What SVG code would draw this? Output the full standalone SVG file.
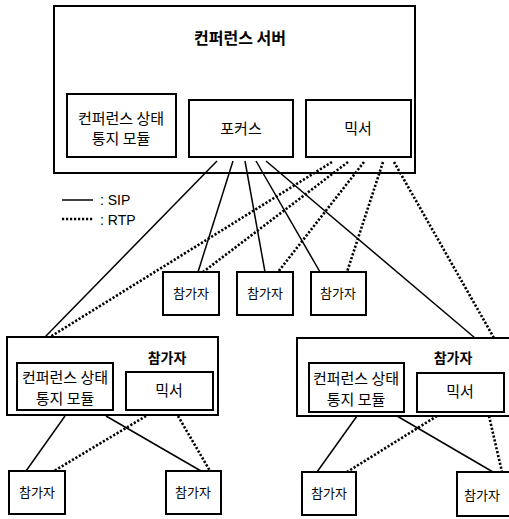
<svg xmlns="http://www.w3.org/2000/svg" width="509" height="519" viewBox="0 0 509 519">
<style>
.box{fill:#fff;stroke:#000;stroke-width:2}
.inner{fill:none;stroke:#000;stroke-width:2}
.sip{stroke:#000;stroke-width:1.5;fill:none}
.rtp{stroke:#000;stroke-width:2.6;stroke-dasharray:2.2 1.8;fill:none}
text{font-family:"Noto Sans CJK KR","Liberation Sans",sans-serif;fill:#000;text-anchor:middle}
.t{font-size:15px}
.s{font-size:13px}
.b{font-size:14px;font-weight:bold}
.title{font-size:16px;font-weight:bold}
.leg{font-size:14px;text-anchor:start;font-family:"Liberation Sans",sans-serif}
</style>
<rect width="509" height="519" fill="#fff"/>
<g id="conference-server">
<rect class="box" x="54" y="6" width="361" height="167"/>
<text class="title" x="240" y="44">컨퍼런스 서버</text>
</g>
<g id="server-notify">
<rect class="inner" x="67" y="94" width="109" height="63"/>
<text class="t" x="121" y="124">컨퍼런스 상태</text>
<text class="t" x="121" y="144">통지 모듈</text>
</g>
<g id="focus">
<rect class="inner" x="189" y="100" width="104" height="57"/>
<text class="t" x="241" y="134">포커스</text>
</g>
<g id="server-mixer">
<rect class="inner" x="306" y="100" width="105" height="57"/>
<text class="t" x="358" y="134">믹서</text>
</g>
<g id="legend">
<line class="sip" x1="62" y1="200" x2="93" y2="200"/>
<text class="leg" x="100" y="205">: SIP</text>
<line class="rtp" x1="62" y1="219" x2="93" y2="219"/>
<text class="leg" x="100" y="225">: RTP</text>
</g>
<g id="connectors">
<line class="sip" x1="217" y1="161" x2="45" y2="337"/>
<line class="sip" x1="233" y1="161" x2="198" y2="272"/>
<line class="sip" x1="245" y1="161" x2="265" y2="272"/>
<line class="sip" x1="256" y1="161" x2="320" y2="272"/>
<line class="sip" x1="266" y1="161" x2="475" y2="338"/>
<line class="rtp" x1="332" y1="162" x2="50" y2="337"/>
<line class="rtp" x1="348" y1="162" x2="203" y2="272"/>
<line class="rtp" x1="364" y1="162" x2="278" y2="272"/>
<line class="rtp" x1="383" y1="162" x2="347" y2="272"/>
<line class="rtp" x1="394" y1="162" x2="494" y2="338"/>
<line class="sip" x1="65" y1="416" x2="26" y2="471"/>
<line class="sip" x1="106" y1="416" x2="201" y2="471"/>
<line class="rtp" x1="146" y1="416" x2="54" y2="471"/>
<line class="rtp" x1="178" y1="416" x2="210" y2="471"/>
<line class="sip" x1="357" y1="416" x2="317" y2="472"/>
<line class="sip" x1="397" y1="416" x2="493" y2="472"/>
<line class="rtp" x1="437" y1="416" x2="347" y2="472"/>
<line class="rtp" x1="489" y1="416" x2="502" y2="472"/>
</g>
<g id="p1">
<rect class="box" x="163" y="272" width="56" height="43"/>
<text class="s" x="191" y="298">참가자</text>
</g>
<g id="p2">
<rect class="box" x="237" y="272" width="56" height="43"/>
<text class="s" x="265" y="298">참가자</text>
</g>
<g id="p3">
<rect class="box" x="311" y="272" width="55" height="43"/>
<text class="s" x="338" y="298">참가자</text>
</g>
<g id="participant-left">
<rect class="box" x="7" y="337" width="211" height="78"/>
<text class="b" x="167" y="363">참가자</text>
<rect class="inner" x="17" y="363" width="96" height="47"/>
<text class="t" x="65" y="383">컨퍼런스 상태</text>
<text class="t" x="65" y="404">통지 모듈</text>
<rect class="inner" x="126" y="372" width="87" height="38"/>
<text class="t" x="169" y="396">믹서</text>
</g>
<g id="participant-right">
<rect class="box" x="297" y="338" width="213" height="78"/>
<text class="b" x="453" y="363">참가자</text>
<rect class="inner" x="309" y="363" width="95" height="49"/>
<text class="t" x="356" y="384">컨퍼런스 상태</text>
<text class="t" x="356" y="405">통지 모듈</text>
<rect class="inner" x="417" y="373" width="87" height="39"/>
<text class="t" x="460" y="397">믹서</text>
</g>
<g id="bl1">
<rect class="box" x="9" y="471" width="56" height="43"/>
<text class="s" x="37" y="497">참가자</text>
</g>
<g id="bl2">
<rect class="box" x="166" y="471" width="55" height="43"/>
<text class="s" x="193" y="497">참가자</text>
</g>
<g id="br1">
<rect class="box" x="302" y="472" width="54" height="43"/>
<text class="s" x="329" y="498">참가자</text>
</g>
<g id="br2">
<rect class="box" x="457" y="472" width="53" height="44"/>
<text class="s" x="482" y="500">참가자</text>
</g>
</svg>
